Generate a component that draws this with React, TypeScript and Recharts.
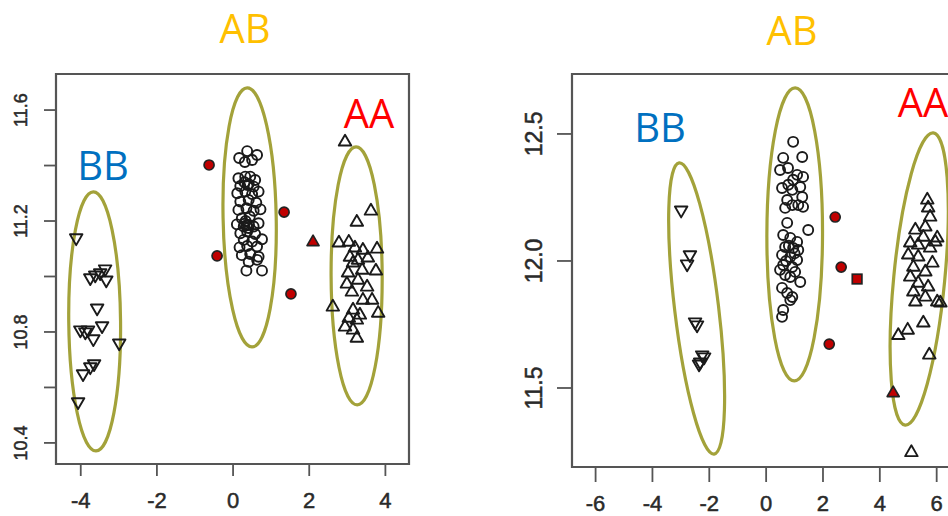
import React from 'react';
import { ScatterChart, Scatter, XAxis, YAxis, ReferenceArea } from 'recharts';

type Pt = { x: number; y: number };
type Ell = { top: [number, number]; bottom: [number, number] };

// ---- left panel data ----
const leftBB: [number, number][] = [
  [-4.12, 11.139], [-3.75, 10.995], [-3.62, 11.005], [-3.49, 11.013], [-3.36, 11.027],
  [-3.33, 10.987], [-3.57, 10.886], [-4.01, 10.807], [-3.88, 10.8], [-3.81, 10.807],
  [-3.67, 10.775], [-3.44, 10.822], [-2.99, 10.76], [-3.94, 10.649], [-3.75, 10.674],
  [-3.65, 10.685], [-4.07, 10.548],
];
const leftAB: [number, number][] = [
  [0.16, 11.427], [0.37, 11.452], [0.63, 11.438], [0.31, 11.413], [0.5, 11.42],
  [0.14, 11.354], [0.32, 11.36], [0.45, 11.36], [0.58, 11.348],
  [0.19, 11.326], [0.41, 11.333], [0.54, 11.324], [0.38, 11.33], [0.3, 11.34],
  [0.11, 11.3], [0.32, 11.306], [0.5, 11.297], [0.67, 11.306],
  [0.19, 11.27], [0.41, 11.276], [0.61, 11.266],
  [0.14, 11.24], [0.35, 11.246], [0.54, 11.237], [0.72, 11.242],
  [0.23, 11.21], [0.44, 11.216], [0.33, 11.2],
  [0.1, 11.188], [0.28, 11.18], [0.41, 11.186], [0.54, 11.18], [0.67, 11.192],
  [0.36, 11.185], [0.3, 11.19], [0.4, 11.175],
  [0.19, 11.156], [0.37, 11.162], [0.58, 11.153],
  [0.28, 11.132], [0.5, 11.126], [0.76, 11.134],
  [0.17, 11.105], [0.37, 11.11], [0.63, 11.108],
  [0.23, 11.077], [0.45, 11.081], [0.67, 11.071],
  [0.41, 11.053], [0.63, 11.06],
  [0.35, 11.021], [0.76, 11.021],
];
const leftAA: [number, number][] = [
  [2.94, 11.485], [3.62, 11.236], [3.25, 11.196], [2.78, 11.121], [3.04, 11.124],
  [3.41, 11.095], [3.78, 11.099], [3.2, 11.103], [3.07, 11.07], [3.28, 11.059],
  [3.54, 11.067], [3.15, 11.049], [3.39, 11.023], [3.75, 11.02], [3.02, 11.013],
  [2.99, 10.973], [3.28, 10.987], [3.52, 10.962], [3.12, 10.944], [3.41, 10.915],
  [3.65, 10.915], [2.62, 10.89], [3.15, 10.879], [3.33, 10.861], [3.81, 10.868],
  [3.04, 10.85], [3.25, 10.843], [2.94, 10.818], [3.15, 10.807], [3.25, 10.778],
];
const leftRedCircles: [number, number][] = [[-0.63, 11.402], [-0.42, 11.074], [1.34, 11.232], [1.52, 10.937]];
const leftRedTriangles: [number, number][] = [[2.1, 11.124]];
const leftEllipses: Ell[] = [
  { top: [-3.67, 11.305], bottom: [-3.6, 10.371] },
  { top: [0.37, 11.68], bottom: [0.5, 10.746] },
  { top: [3.23, 11.467], bottom: [3.26, 10.537] },
];

// ---- right panel data ----
const rightBB: [number, number][] = [
  [-2.99, 12.2], [-2.68, 12.024], [-2.78, 11.988], [-2.5, 11.76], [-2.43, 11.748],
  [-2.25, 11.63], [-2.32, 11.602], [-2.18, 11.622], [-2.36, 11.594],
];
const rightAB: [number, number][] = [
  [0.95, 12.469], [1.27, 12.409], [0.6, 12.406], [0.77, 12.366], [0.49, 12.358],
  [1.09, 12.339], [1.3, 12.331], [0.95, 12.32], [0.78, 12.3], [0.56, 12.287],
  [0.92, 12.28], [1.2, 12.291], [1.27, 12.252], [0.74, 12.24], [0.92, 12.22],
  [1.13, 12.22], [0.67, 12.209], [1.3, 12.213], [0.74, 12.15], [1.48, 12.122],
  [0.6, 12.102], [0.85, 12.091], [1.09, 12.075], [0.8, 12.06], [0.67, 12.055],
  [0.95, 12.051], [1.13, 12.043], [1.0, 12.03], [0.56, 12.024], [0.85, 12.016],
  [1.09, 12.004], [0.7, 12.0], [0.6, 11.984], [0.92, 11.976], [0.49, 11.965],
  [1.02, 11.957], [0.67, 11.945], [0.85, 11.937], [1.2, 11.917], [0.56, 11.894],
  [0.74, 11.874], [0.92, 11.858], [0.85, 11.846], [0.6, 11.807], [0.56, 11.78],
];
const rightAA: [number, number][] = [
  [5.67, 12.24], [5.7, 12.209], [5.77, 12.173], [5.25, 12.122], [5.6, 12.134],
  [5.53, 12.094], [6.02, 12.091], [5.95, 12.075], [5.07, 12.071], [5.35, 12.063],
  [5.77, 12.051], [5.0, 12.024], [5.35, 12.016], [5.85, 11.992], [5.18, 11.976],
  [5.6, 11.957], [5.07, 11.937], [5.35, 11.913], [5.7, 11.898], [5.18, 11.878],
  [5.6, 11.858], [5.25, 11.839], [6.02, 11.839], [6.13, 11.835], [5.53, 11.756],
  [4.98, 11.728], [4.65, 11.707], [5.74, 11.63], [5.11, 11.246],
];
const rightRedCircles: [number, number][] = [[2.43, 12.173], [2.64, 11.976], [2.22, 11.673]];
const rightRedSquares: [number, number][] = [[3.2, 11.929]];
const rightRedTriangles: [number, number][] = [[4.47, 11.48]];
const rightEllipses: Ell[] = [
  { top: [-3.06, 12.386], bottom: [-1.83, 11.24] },
  { top: [1.02, 12.681], bottom: [0.99, 11.528] },
  { top: [5.88, 12.504], bottom: [4.89, 11.354] },
];

// axis setup
const leftXDomain = [-4.65, 4.62];
const leftYDomain = [10.324, 11.73];
const leftXTicks = [-4, -2, 0, 2, 4];
const leftYTicks = [10.4, 10.6, 10.8, 11.0, 11.2, 11.4, 11.6];
const leftYLabeled = [10.4, 10.8, 11.2, 11.6];

const rightXDomain = [-6.83, 7.7];
const rightYDomain = [11.189, 12.736];
const rightXTicks = [-6, -4, -2, 0, 2, 4, 6];
const rightYTicks = [11.5, 12.0, 12.5];

// minor/major ratio of each ellipse
const leftRatios = [0.2, 0.205, 0.198];
const rightRatios = [0.15, 0.19, 0.174];

const toPts = (a: [number, number][]): Pt[] => a.map(([x, y]) => ({ x, y }));

const INK = '#1a1a1a';
const AXIS = '#555';
const OLIVE = '#a3a23a';
const RED = '#c00000';
const TICK_FONT = '"Liberation Sans", Arial, sans-serif';
const TICK_INK = '#2a2a2a';

const hollowCircle = (p: any) => (
  <circle cx={p.cx} cy={p.cy} r={5} fill="none" stroke={INK} strokeWidth={1.9} />
);
const redCircle = (p: any) => (
  <circle cx={p.cx} cy={p.cy} r={5} fill={RED} stroke="#222" strokeWidth={1.7} />
);
const redSquare = (p: any) => (
  <rect x={p.cx - 4.8} y={p.cy - 4.8} width={9.6} height={9.6} fill={RED} stroke="#222" strokeWidth={1.7} />
);
const tri = (cx: number, cy: number, up: boolean, s = 12.5) => {
  const h = s * 0.866;
  const k = up ? 1 : -1;
  return `${cx},${cy - (k * 2 * h) / 3} ${cx - s / 2},${cy + (k * h) / 3} ${cx + s / 2},${cy + (k * h) / 3}`;
};
const upTri = (p: any) => (
  <polygon points={tri(p.cx, p.cy, true)} fill="none" stroke={INK} strokeWidth={1.9} strokeLinejoin="round" />
);
const downTri = (p: any) => (
  <polygon points={tri(p.cx, p.cy, false)} fill="none" stroke={INK} strokeWidth={1.9} strokeLinejoin="round" />
);
const redTri = (p: any) => (
  <polygon points={tri(p.cx, p.cy, true, 12)} fill={RED} stroke="#222" strokeWidth={1.7} strokeLinejoin="round" />
);

// draw an ellipse whose major axis runs between the top and bottom ends
const ellipseShape = (e: Ell, ratio: number) => (p: any) => {
  const { x, y, width, height } = p;
  const leftTop = e.top[0] <= e.bottom[0];
  const x1 = leftTop ? x : x + width;
  const x2 = leftTop ? x + width : x;
  const y1 = y;
  const y2 = y + height;
  const cx = (x1 + x2) / 2;
  const cy = (y1 + y2) / 2;
  const a = Math.hypot(x2 - x1, y2 - y1) / 2;
  const ang = (Math.atan2(y2 - y1, x2 - x1) * 180) / Math.PI;
  return (
    <ellipse cx={cx} cy={cy} rx={a} ry={a * ratio} transform={`rotate(${ang}, ${cx}, ${cy})`}
      fill="none" stroke={OLIVE} strokeWidth={3.2} />
  );
};

const makeXTick = (fontSize: number) => (p: any) => (
  <text x={p.x} y={p.y} dy="0.71em" textAnchor="middle" fontSize={fontSize} fontFamily={TICK_FONT}
    fill={TICK_INK} stroke={TICK_INK} strokeWidth={0.5}>
    {String(p.payload.value)}
  </text>
);
const makeYTick = (fontSize: number, labeled: number[] | null) => (p: any) => {
  const v = p.payload.value as number;
  if (labeled && !labeled.some((l) => Math.abs(l - v) < 1e-6)) return <g />;
  return (
    <text x={p.x} y={p.y} transform={`rotate(-90, ${p.x}, ${p.y})`} textAnchor="middle" fontSize={fontSize}
      fontFamily={TICK_FONT} fill={TICK_INK} stroke={TICK_INK} strokeWidth={0.5}>
      {v.toFixed(1)}
    </text>
  );
};

const labels = [
  { text: 'AB', color: '#ffc000', x: 245, y: 43 },
  { text: 'AA', color: '#ff0000', x: 369, y: 128 },
  { text: 'BB', color: '#0070c0', x: 103, y: 180 },
  { text: 'AB', color: '#ffc000', x: 792, y: 45 },
  { text: 'BB', color: '#0070c0', x: 660, y: 142 },
  { text: 'AA', color: '#ff0000', x: 923, y: 117 },
];

export default function App() {
  return (
    <div style={{ position: 'absolute', left: 0, top: 0, width: 948, height: 516, overflow: 'hidden', background: '#fff' }}>
      <div style={{ position: 'absolute', left: 0, top: 0 }}>
        <ScatterChart width={430} height={516} margin={{ top: 74, right: 21, bottom: 0, left: 0 }}>
          <XAxis type="number" dataKey="x" domain={leftXDomain} ticks={leftXTicks} interval={0} allowDataOverflow
            height={52} axisLine={false} tickSize={12} tickMargin={16} tickLine={{ stroke: AXIS, strokeWidth: 1.8 }}
            tick={makeXTick(22)} />
          <YAxis type="number" dataKey="y" domain={leftYDomain} ticks={leftYTicks} interval={0} allowDataOverflow
            width={56} axisLine={false} tickSize={12} tickMargin={17} tickLine={{ stroke: AXIS, strokeWidth: 1.8 }}
            tick={makeYTick(18, leftYLabeled)} />
          <ReferenceArea x1={leftXDomain[0]} x2={leftXDomain[1]} y1={leftYDomain[0]} y2={leftYDomain[1]}
            ifOverflow="visible" fill="none" fillOpacity={0} stroke={AXIS} strokeWidth={2.2} />
          <Scatter data={toPts(leftBB)} shape={downTri} isAnimationActive={false} />
          <Scatter data={toPts(leftAB)} shape={hollowCircle} isAnimationActive={false} />
          <Scatter data={toPts(leftAA)} shape={upTri} isAnimationActive={false} />
          <Scatter data={toPts(leftRedCircles)} shape={redCircle} isAnimationActive={false} />
          <Scatter data={toPts(leftRedTriangles)} shape={redTri} isAnimationActive={false} />
          {leftEllipses.map((e, i) => (
            <ReferenceArea key={i} x1={Math.min(e.top[0], e.bottom[0])} x2={Math.max(e.top[0], e.bottom[0])}
              y1={e.bottom[1]} y2={e.top[1]} ifOverflow="visible" shape={ellipseShape(e, leftRatios[i])} />
          ))}
        </ScatterChart>
      </div>
      <div style={{ position: 'absolute', left: 500, top: 0 }}>
        <ScatterChart width={495} height={516} margin={{ top: 74, right: 10, bottom: 0, left: 0 }}>
          <XAxis type="number" dataKey="x" domain={rightXDomain} ticks={rightXTicks} interval={0} allowDataOverflow
            height={49} axisLine={false} tickSize={15} tickMargin={13} tickLine={{ stroke: AXIS, strokeWidth: 1.8 }}
            tick={makeXTick(22)} />
          <YAxis type="number" dataKey="y" domain={rightYDomain} ticks={rightYTicks} interval={0} allowDataOverflow
            width={72} axisLine={false} tickSize={15} tickMargin={15} tickLine={{ stroke: AXIS, strokeWidth: 1.8 }}
            tick={makeYTick(23, null)} />
          <ReferenceArea x1={rightXDomain[0]} x2={rightXDomain[1]} y1={rightYDomain[0]} y2={rightYDomain[1]}
            ifOverflow="visible" fill="none" fillOpacity={0} stroke={AXIS} strokeWidth={2.2} />
          <Scatter data={toPts(rightBB)} shape={downTri} isAnimationActive={false} />
          <Scatter data={toPts(rightAB)} shape={hollowCircle} isAnimationActive={false} />
          <Scatter data={toPts(rightAA)} shape={upTri} isAnimationActive={false} />
          <Scatter data={toPts(rightRedCircles)} shape={redCircle} isAnimationActive={false} />
          <Scatter data={toPts(rightRedSquares)} shape={redSquare} isAnimationActive={false} />
          <Scatter data={toPts(rightRedTriangles)} shape={redTri} isAnimationActive={false} />
          {rightEllipses.map((e, i) => (
            <ReferenceArea key={i} x1={Math.min(e.top[0], e.bottom[0])} x2={Math.max(e.top[0], e.bottom[0])}
              y1={e.bottom[1]} y2={e.top[1]} ifOverflow="visible" shape={ellipseShape(e, rightRatios[i])} />
          ))}
        </ScatterChart>
      </div>
      <svg width={948} height={516} style={{ position: 'absolute', left: 0, top: 0, pointerEvents: 'none' }}>
        {labels.map((l, i) => (
          <text key={i} x={l.x} y={l.y} textAnchor="middle" fontSize={40} fill={l.color}
            fontFamily='"Open Sans", Lato, sans-serif'>
            {l.text}
          </text>
        ))}
      </svg>
    </div>
  );
}
